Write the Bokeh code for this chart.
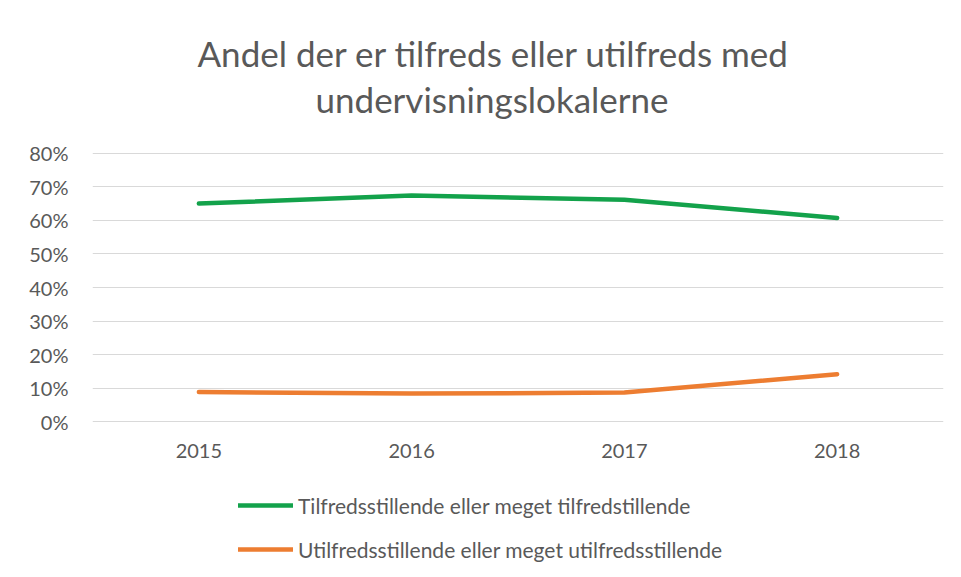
from bokeh.plotting import figure
from bokeh.layouts import column
from bokeh.models import (ColumnDataSource, Legend, LegendItem, Title,
                          NumeralTickFormatter, FixedTicker, Range1d)
from bokeh.embed import file_html
from bokeh.resources import INLINE

years = ["2015", "2016", "2017", "2018"]
tilfreds = [0.650, 0.674, 0.661, 0.607]
utilfreds = [0.089, 0.084, 0.087, 0.142]
y_ticks = [0.0, 0.1, 0.2, 0.3, 0.4, 0.5, 0.6, 0.7, 0.8]
title_lines = ["Andel der er tilfreds eller utilfreds med", "undervisningslokalerne"]
series_names = ["Tilfredsstillende eller meget tilfredstillende",
                "Utilfredsstillende eller meget utilfredsstillende"]

FONT = "Lato"
GREY = "#595959"
GREEN = "#13A24B"
ORANGE = "#ED7D31"
LW = 4.5

src = ColumnDataSource(dict(year=years, t=tilfreds, u=utilfreds))

p = figure(x_range=years, y_range=Range1d(-0.002, 0.802),
           frame_width=851, frame_height=270,
           min_border_left=92, min_border_right=2,
           min_border_top=152, min_border_bottom=44,
           output_backend="svg", toolbar_location=None)
p.outline_line_color = None
p.background_fill_color = "white"
p.border_fill_color = "white"

p.line("year", "t", source=src, line_color=GREEN, line_width=LW, line_cap="round")
p.line("year", "u", source=src, line_color=ORANGE, line_width=LW, line_cap="round")

# axes
p.yaxis.ticker = FixedTicker(ticks=y_ticks)
p.yaxis.formatter = NumeralTickFormatter(format="0%")
for ax in (p.xaxis[0], p.yaxis[0]):
    ax.axis_line_color = None
    ax.major_tick_line_color = None
    ax.minor_tick_line_color = None
    ax.major_tick_out = 0
    ax.major_tick_in = 0
    ax.major_label_text_font = FONT
    ax.major_label_text_color = GREY
    ax.major_label_text_font_size = "20px"
p.yaxis.major_label_standoff = 24
p.xaxis.major_label_standoff = 21

p.xgrid.grid_line_color = None
p.ygrid.grid_line_color = "#d9d9d9"
p.ygrid.grid_line_width = 1

# title: spacer next to the frame, then the two lines
p.add_layout(Title(text="\u00a0", text_font=FONT, text_font_size="24px",
                   text_color="white", standoff=0), "above")
for txt, off, so in [(title_lines[1], 223, 4), (title_lines[0], 105, 0)]:
    p.add_layout(Title(text=txt, align="left", offset=off,
                       text_font=FONT, text_font_size="35px",
                       text_font_style="normal", text_color=GREY,
                       standoff=so), "above")

# legend in its own strip below the chart
q = figure(x_range=(0, 1), y_range=(0, 1), frame_width=945, frame_height=103,
           min_border=0, output_backend="svg", toolbar_location=None)
q.axis.visible = False
q.grid.visible = False
q.outline_line_color = None
nan = float("nan")
g1 = q.line(x=[nan], y=[nan], line_color=GREEN, line_width=LW, line_cap="round")
g2 = q.line(x=[nan], y=[nan], line_color=ORANGE, line_width=LW, line_cap="round")
lg = Legend(items=[LegendItem(label=series_names[0], renderers=[g1]),
                   LegendItem(label=series_names[1], renderers=[g2])],
            location=(238, 7), orientation="vertical",
            glyph_width=55, glyph_height=26, label_height=26,
            label_standoff=5, padding=0, margin=0, spacing=18,
            label_text_font=FONT, label_text_font_size="21px",
            label_text_color=GREY, border_line_color=None,
            background_fill_alpha=0)
q.add_layout(lg, "center")

page = column(p, q, spacing=0)
html = file_html(page, INLINE)
open("out.html", "w").write(html)
